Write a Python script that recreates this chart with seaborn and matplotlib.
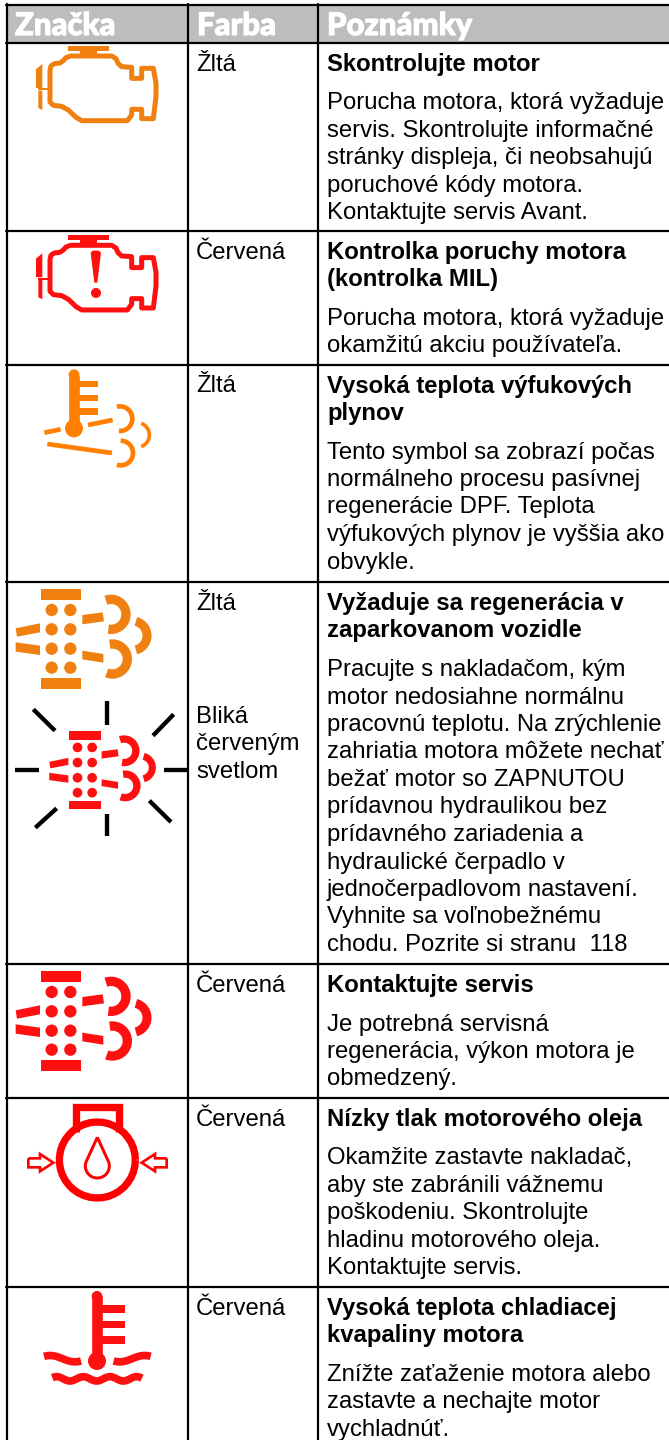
import numpy as np
import matplotlib.pyplot as plt
import matplotlib.patches as mpatches
import matplotlib.patheffects as pe
import seaborn as sns

# texty tabulky
hlavicky = ["Značka", "Farba", "Poznámky"]
farby = ["Žltá", "Červená", "Žltá", "Žltá", "Červená", "Červená", "Červená"]
farba_blika = ["Bliká", "červeným", "svetlom"]
nadpisy = [
    ["Skontrolujte motor"],
    ["Kontrolka poruchy motora", "(kontrolka MIL)"],
    ["Vysoká teplota výfukových", "plynov"],
    ["Vyžaduje sa regenerácia v", "zaparkovanom vozidle"],
    ["Kontaktujte servis"],
    ["Nízky tlak motorového oleja"],
    ["Vysoká teplota chladiacej", "kvapaliny motora"],
]
poznamky = [
    ["Porucha motora, ktorá vyžaduje", "servis. Skontrolujte informačné",
     "stránky displeja, či neobsahujú", "poruchové kódy motora.",
     "Kontaktujte servis Avant."],
    ["Porucha motora, ktorá vyžaduje", "okamžitú akciu používateľa."],
    ["Tento symbol sa zobrazí počas", "normálneho procesu pasívnej",
     "regenerácie DPF. Teplota", "výfukových plynov je vyššia ako",
     "obvykle."],
    ["Pracujte s nakladačom, kým", "motor nedosiahne normálnu",
     "pracovnú teplotu. Na zrýchlenie", "zahriatia motora môžete nechať",
     "bežať motor so ZAPNUTOU", "prídavnou hydraulikou bez",
     "prídavného zariadenia a", "hydraulické čerpadlo v",
     "jednočerpadlovom nastavení.", "Vyhnite sa voľnobežnému",
     "chodu. Pozrite si stranu  118"],
    ["Je potrebná servisná", "regenerácia, výkon motora je", "obmedzený."],
    ["Okamžite zastavte nakladač,", "aby ste zabránili vážnemu",
     "poškodeniu. Skontrolujte", "hladinu motorového oleja.",
     "Kontaktujte servis."],
    ["Znížte zaťaženie motora alebo", "zastavte a nechajte motor",
     "vychladnúť."],
]
riadky_y = [42.7, 230.7, 364.5, 582, 964, 1097.7, 1286.7]

ORANZ = "#F08010"
ORANZ2 = "#FF8000"
CERV = "#FF1010"
CIST = "#FF0000"

sns.set_theme(style="white")
plt.rcParams['font.family'] = ['Liberation Sans', 'DejaVu Sans']

fig, ax = plt.subplots(figsize=(6.69, 14.40), dpi=100)
fig.subplots_adjust(0, 0, 1, 1)


class Ikona:
    # suradnice su v pixeloch zvacseneho vyrezu (3x)
    def __init__(self, ox=0, oy=0, k=1 / 3):
        self.ox, self.oy, self.k = ox, oy, k

    def xy(self, pts):
        pts = np.asarray(pts, dtype=float)
        return self.ox + pts[:, 0] * self.k, self.oy + pts[:, 1] * self.k

    def ciara(self, pts, farba, hr, kap='butt', spoj='round'):
        x, y = self.xy(pts)
        sns.lineplot(x=x, y=y, sort=False, estimator=None, color=farba, ax=ax,
                     linewidth=hr * self.k * 0.72, solid_capstyle=kap,
                     solid_joinstyle=spoj, legend=False)

    def oblast(self, pts, farba):
        x, y = self.xy(pts)
        ax.fill(x, y, color=farba, lw=0)

    def kruh(self, cx, cy, r, farba):
        ax.add_patch(mpatches.Circle((self.ox + cx * self.k, self.oy + cy * self.k),
                                     r * self.k, color=farba, lw=0))

    def obluk(self, cx, cy, r, a0, a1, farba, hr):
        t = np.radians(np.linspace(a0, a1, 40))
        self.ciara(np.c_[cx + r * np.cos(t), cy + r * np.sin(t)], farba, hr)


def motor(oy, farba):
    ik = Ikona(0, oy)
    ik.oblast([(204, 48), (328, 48), (328, 62), (292, 62), (292, 72), (240, 72), (240, 62), (204, 62)], farba)
    ik.ciara([(150, 178), (150, 120), (153, 108), (163, 101), (180, 99), (190, 92), (198, 83), (212, 78),
              (335, 78), (348, 86), (354, 100), (365, 110), (395, 112), (395, 145), (425, 145), (425, 115),
              (460, 115), (468, 160), (468, 200), (460, 266), (425, 266), (425, 238), (395, 238), (395, 255),
              (382, 272), (245, 272), (228, 262), (205, 240), (185, 229), (160, 226), (150, 216), (150, 178)],
             farba, 15)
    ik.oblast([(108, 118), (127, 102), (127, 174), (108, 174)], farba)
    ik.oblast([(115, 182), (127, 182), (127, 240), (115, 234)], farba)
    ik.ciara([(115, 178), (150, 178)], farba, 6)
    return ik


def dpf(ox, oy, farba, m=1 / 3):
    ik = Ikona(ox, oy, m)
    ik.oblast([(123, -3), (243, -3), (243, 30), (123, 30)], farba)
    ik.oblast([(123, 264), (243, 264), (243, 297), (123, 297)], farba)
    for dx in (155, 211):
        for dy in (60, 118, 176, 233):
            ik.kruh(dx, dy, 18.5, farba)
    ik.oblast([(47, 115), (120, 100), (120, 127), (51, 140)], farba)
    ik.oblast([(47, 157), (120, 167), (120, 195), (47, 185)], farba)
    ik.oblast([(247, 75), (308, 67), (312, 94), (247, 103)], farba)
    ik.oblast([(247, 182), (310, 192), (310, 218), (247, 208)], farba)
    ik.obluk(333, 73, 45, -110, 100, farba, 28)
    ik.obluk(337, 207, 45, -100, 112, farba, 28)
    ik.obluk(397, 137, 44, -76, 76, farba, 27)


def teplomer(ik, farba, xs, ys, yb, rb, hore, tycky, x2, hr):
    ik.ciara([(xs, hore + hr / 2), (xs, yb)], farba, hr)
    ik.kruh(xs, hore + hr / 2, hr / 2, farba)
    ik.kruh(xs, yb, rb, farba)
    for y0 in tycky:
        ik.oblast([(xs, y0), (x2, y0), (x2, y0 + ys), (xs, y0 + ys)], farba)


# ----- mriezka tabulky
ax.add_patch(mpatches.Rectangle((8, 5), 661, 37, color="#BDBDBD", lw=0))
cier = "black"
for yy in [4.5] + riadky_y:
    sns.lineplot(x=[6, 669], y=[yy, yy], color=cier, linewidth=1.6, ax=ax, legend=False)
for xx in [7, 188, 317.5]:
    sns.lineplot(x=[xx, xx], y=[4, 1440], color=cier, linewidth=1.6, ax=ax, legend=False, orient='y')

# ----- hlavicka
for xx, txt in zip([15, 197, 327], hlavicky):
    ax.text(xx, 35, txt, color="white", fontsize=22.4, fontweight=900,
            family=['Lato', 'DejaVu Sans'],
            path_effects=[pe.withStroke(linewidth=0.8, foreground="white")])

# ----- texty
FS = 17.2
for i, y0 in enumerate(riadky_y):
    y = y0 + 28
    ax.text(196, y, farby[i], fontsize=FS, color="black")
    for s in nadpisy[i]:
        ax.text(327, y, s, fontsize=FS, fontweight='bold', color="black")
        y += 27.5
    y += 11
    for s in poznamky[i]:
        ax.text(327, y, s, fontsize=FS, color="black")
        y += 27.5
for s, y in zip(farba_blika, [722.7, 750, 777.5]):
    ax.text(196, y, s, fontsize=FS, color="black")

# ----- ikony
motor(30, ORANZ)
ik = motor(30 + 189.3, CERV)
ax.fill(*ik.xy([(272, 100), (278, 94), (296, 94), (303, 100), (292, 190), (283, 190)]), color=CERV, lw=0)
Ikona(0, 219.3).kruh(288, 221, 15, CERV)

# vyfukove plyny
ik = Ikona(0, 360)
teplomer(ik, ORANZ2, 222, 19, 205, 27, 28, [63, 104, 145], 294, 32)
ik.ciara([(133, 218), (182, 208)], ORANZ2, 14)
ik.ciara([(264, 195), (338, 180)], ORANZ2, 14)
ik.ciara([(142, 252), (336, 279)], ORANZ2, 14)
ik.obluk(360, 176, 37, -105, 95, ORANZ2, 14)
ik.obluk(362, 279, 37, -90, 108, ORANZ2, 14)
ik.obluk(411, 225, 37, -70, 70, ORANZ2, 11)

# DPF
dpf(0, 590, ORANZ)
k = 0.785 / 3
dpf((254.5 - 183 * 0.785) / 3, 590 + (540.5 - 147 * 0.785) / 3, CERV, k)
ik = Ikona(0, 590)
for lu in [[(321, 333), (321, 405)], [(321, 673), (321, 737)], [(45, 540), (118, 540)],
           [(491, 540), (563, 540)], [(100, 358), (165, 422)], [(521, 373), (459, 437)],
           [(170, 655), (106, 713)], [(448, 632), (513, 696)]]:
    ik.ciara(lu, "#000000", 13)
dpf(0, 972, CERV)

# olej
ik = Ikona(0, 1090)
ik.obluk(292, 210, 114, 0, 360, CIST, 22)
ik.ciara([(227, 125), (227, 51), (357, 51), (357, 125)], CIST, 22, spoj='miter')
for zrk in (False, True):
    sip = np.array([(85, 205), (120, 205), (120, 192), (160, 218), (120, 244), (120, 232), (85, 232), (85, 205)],
                   dtype=float)
    if zrk:
        sip[:, 0] = 585 - sip[:, 0]
    ik.ciara(sip, CIST, 8, spoj='miter')
t = np.radians(np.linspace(200, -20, 40))
kvapka = np.r_[[(292, 142)], np.c_[292 + 36 * np.cos(t), 228 + 36 * np.sin(t)], [(292, 142)]]
ik.ciara(kvapka, CIST, 9, spoj='miter')

# chladiaca kvapalina
teplomer(ik, CERV, 291, 23, 813, 27, 603, [645, 692, 738], 376, 32)
xv = np.linspace(132, 243, 40)
yv = 806 - 9.5 * np.cos(2 * np.pi * (xv - 150) / 150)
ik.ciara(np.c_[xv, yv], CERV, 23)
ik.ciara(np.c_[584 - xv, yv], CERV, 23)
xv = np.linspace(157, 426, 80)
ik.ciara(np.c_[xv, 866.5 - 6.5 * np.cos(2 * np.pi * (xv - 250) / 80)], CERV, 23)

ax.set_xlim(0, 669)
ax.set_ylim(1440, 0)
ax.axis('off')
plt.savefig('out.png', dpi=100)
